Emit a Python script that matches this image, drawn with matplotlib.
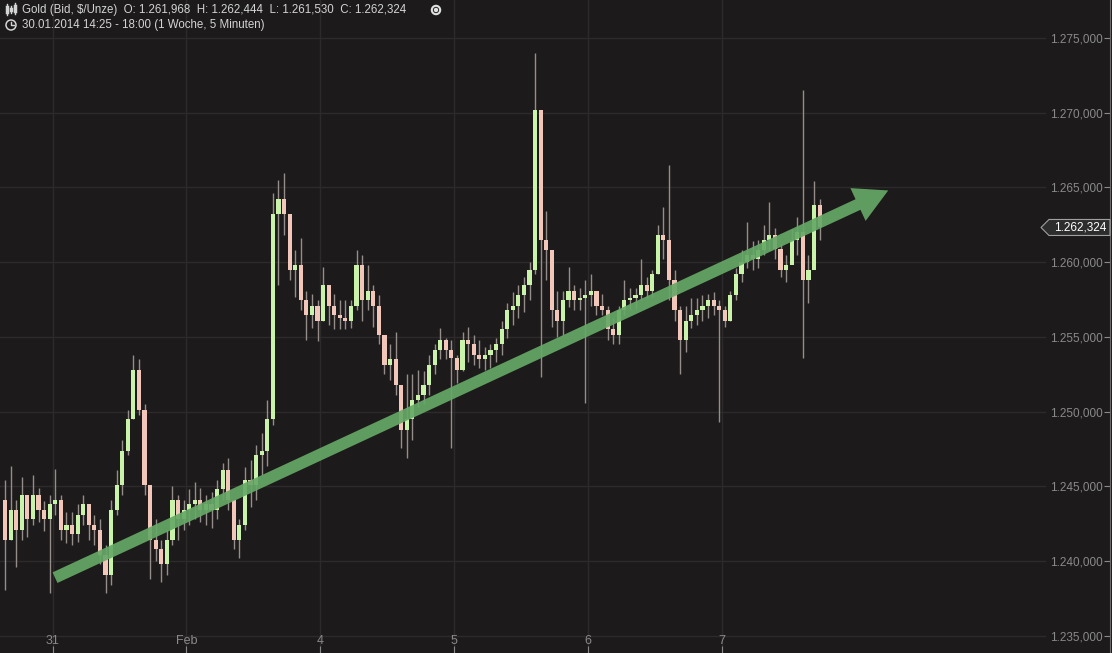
import matplotlib
matplotlib.use('Agg')
import matplotlib.pyplot as plt
import matplotlib.transforms as mtransforms
from matplotlib.patches import Polygon, Circle
from matplotlib.lines import Line2D
import numpy as np
import pandas as pd

plt.rcParams['font.family'] = ['Liberation Sans', 'DejaVu Sans']

# Gold (Bid, $/Unze), hourly candles
first_open = 1244.1
highs = [1245.4, 1246.4, 1244.1, 1245.6, 1244.4, 1245.8, 1244.9, 1244.0, 1244.4, 1246.2,
         1244.4, 1243.3, 1243.3, 1243.8, 1244.4, 1243.8, 1243.1, 1242.8, 1241.1, 1244.1,
         1246.1, 1248.1, 1250.1, 1253.8, 1253.5, 1250.5, 1244.8, 1242.8, 1241.4, 1242.1,
         1245.0, 1244.4, 1244.1, 1244.8, 1245.3, 1244.9, 1244.4, 1244.6, 1245.4, 1246.6,
         1246.9, 1244.1, 1242.8, 1246.3, 1246.8, 1247.8, 1248.6, 1250.8, 1264.6, 1265.5,
         1266.0, 1263.2, 1260.8, 1261.6, 1258.1, 1257.9, 1257.5, 1259.7, 1258.5, 1257.9,
         1257.5, 1257.5, 1257.5, 1260.8, 1260.5, 1259.8, 1258.5, 1257.8, 1255.1, 1254.5,
         1255.3, 1251.8, 1252.5, 1252.5, 1252.8, 1252.7, 1253.8, 1254.5, 1255.6, 1254.9,
         1254.8, 1253.8, 1255.3, 1255.7, 1255.1, 1254.8, 1254.3, 1254.5, 1254.9, 1256.1,
         1257.3, 1258.0, 1258.5, 1259.0, 1260.0, 1274.0, 1269.2, 1263.4, 1260.8, 1258.1,
         1258.1, 1259.7, 1258.5, 1258.3, 1258.8, 1259.2, 1258.1, 1257.9, 1257.1, 1256.3,
         1257.1, 1258.8, 1258.3, 1258.3, 1260.2, 1259.0, 1259.5, 1262.5, 1263.7, 1266.5,
         1259.5, 1257.1, 1257.1, 1257.6, 1257.6, 1257.8, 1257.9, 1258.0, 1257.5, 1257.1,
         1258.1, 1259.6, 1260.8, 1262.7, 1261.4, 1261.5, 1262.5, 1264.0, 1262.3, 1261.2,
         1260.5, 1262.2, 1263.0, 1271.5, 1260.5, 1265.4, 1264.2]
lows = [1238.1, 1241.4, 1239.6, 1241.4, 1241.6, 1242.4, 1242.6, 1242.0, 1237.9, 1243.1,
        1241.4, 1241.2, 1241.1, 1241.3, 1242.4, 1241.4, 1241.1, 1239.8, 1237.9, 1238.4,
        1243.1, 1244.4, 1247.1, 1249.5, 1249.8, 1244.4, 1238.8, 1240.0, 1238.6, 1239.1,
        1241.1, 1241.4, 1242.1, 1242.4, 1242.8, 1242.6, 1242.4, 1242.2, 1242.8, 1244.1,
        1243.4, 1240.8, 1240.2, 1242.1, 1243.6, 1244.1, 1245.8, 1246.4, 1249.1, 1258.5,
        1261.8, 1258.8, 1257.7, 1256.8, 1254.8, 1255.6, 1254.7, 1256.1, 1255.8, 1255.5,
        1255.5, 1255.5, 1255.6, 1256.8, 1256.1, 1256.8, 1255.7, 1254.5, 1252.5, 1252.1,
        1251.1, 1247.6, 1246.9, 1248.1, 1250.3, 1250.5, 1251.1, 1252.5, 1253.5, 1253.5,
        1247.6, 1251.9, 1252.7, 1253.3, 1253.1, 1252.9, 1252.8, 1252.9, 1253.3, 1253.8,
        1254.9, 1255.8, 1256.3, 1256.7, 1257.5, 1259.2, 1252.3, 1258.8, 1255.7, 1255.0,
        1255.1, 1257.0, 1256.8, 1256.8, 1250.6, 1257.1, 1256.5, 1256.5, 1254.8, 1254.5,
        1254.5, 1256.5, 1256.8, 1256.9, 1257.5, 1257.6, 1257.7, 1259.2, 1260.2, 1257.5,
        1256.1, 1252.5, 1254.0, 1255.6, 1255.8, 1256.1, 1256.3, 1256.5, 1249.3, 1255.7,
        1256.1, 1257.5, 1258.7, 1259.6, 1259.5, 1259.6, 1260.5, 1260.8, 1260.2, 1259.0,
        1258.7, 1260.0, 1260.5, 1253.6, 1257.3, 1259.8, 1261.5]
closes = [1241.4, 1243.4, 1242.1, 1244.4, 1242.8, 1244.4, 1243.4, 1242.8, 1243.8, 1244.1,
          1242.1, 1242.4, 1241.8, 1243.1, 1243.8, 1242.4, 1242.1, 1240.4, 1239.1, 1243.4,
          1245.1, 1247.4, 1249.5, 1252.8, 1250.1, 1245.1, 1241.4, 1240.8, 1239.8, 1241.4,
          1244.1, 1242.8, 1243.4, 1243.8, 1244.1, 1243.4, 1243.8, 1243.4, 1244.8, 1246.1,
          1244.1, 1241.4, 1242.4, 1245.4, 1245.1, 1247.1, 1247.4, 1249.5, 1263.2, 1264.2,
          1263.2, 1259.5, 1259.8, 1257.5, 1256.5, 1257.1, 1256.1, 1258.5, 1257.1, 1256.5,
          1256.3, 1256.1, 1257.1, 1259.8, 1257.5, 1258.1, 1257.1, 1255.1, 1253.1, 1253.5,
          1251.8, 1248.8, 1249.5, 1250.8, 1251.1, 1251.8, 1253.1, 1254.1, 1254.8, 1254.1,
          1253.6, 1252.8, 1254.8, 1254.5, 1253.8, 1253.5, 1253.8, 1254.1, 1254.5, 1255.5,
          1256.8, 1257.1, 1257.8, 1258.5, 1259.5, 1270.2, 1261.5, 1260.8, 1256.8, 1256.1,
          1257.5, 1258.1, 1257.5, 1257.6, 1257.8, 1258.1, 1257.1, 1256.8, 1255.5, 1255.1,
          1256.8, 1257.5, 1257.6, 1257.8, 1258.5, 1258.1, 1259.2, 1261.8, 1261.5, 1258.8,
          1256.8, 1254.8, 1256.1, 1256.5, 1256.8, 1257.1, 1257.5, 1257.1, 1256.8, 1256.1,
          1257.8, 1259.2, 1260.0, 1260.5, 1260.2, 1260.8, 1261.5, 1261.8, 1260.9, 1259.5,
          1259.8, 1261.5, 1262.0, 1258.8, 1259.5, 1263.8, 1262.324]

day_labels = ['31', 'Feb', '4', '5', '6', '7']
price_ticks = [1235, 1240, 1245, 1250, 1255, 1260, 1265, 1270, 1275]
last_price = 1262.324
header = 'Gold (Bid, $/Unze)  O: 1.261,968  H: 1.262,444  L: 1.261,530  C: 1.262,324'
subheader = '30.01.2014 14:25 - 18:00 (1 Woche, 5 Minuten)'

# hand-drawn trend arrow (candle index, price)
trend_start = (8.95, 1238.9)
trend_end = (158.3, 1264.8)

BG = '#1c1a1a'
GRID = '#2c2a2a'
LABEL = '#8a8a8a'


def de_fmt(v):
    return f'{v:,.3f}'.replace(',', 'X').replace('.', ',').replace('X', '.')


times = pd.date_range('2014-01-30 15:00', '2014-02-07 17:00', freq='h')
times = times[times.dayofweek < 5]
closes = np.array(closes)
highs = np.array(highs)
lows = np.array(lows)
opens = np.r_[first_open, closes[:-1]]
x = np.arange(len(closes))
day_pos = np.where(times.hour == 0)[0] - 0.5

fig = plt.figure(figsize=(11.12, 6.53), dpi=100, facecolor=BG)
ax = fig.add_axes([0, 0, 1110 / 1112, 1])
ax.set_facecolor(BG)

px = 5.579  # pixels per candle
ax.set_xlim(-5.08 / px, (1110 - 5.08) / px)
ax.set_ylim(1233.86, 1277.54)

# grid
for p in price_ticks:
    ax.axhline(p, xmin=0, xmax=1045 / 1110, color=GRID, lw=1, zorder=0)
for d in day_pos:
    ax.axvline(d, color=GRID, lw=1, zorder=0)

# candles
up = closes >= opens
ax.vlines(x, lows, highs, color='#948d8a', lw=1, zorder=2)
body_lo = np.minimum(opens, closes)
body_h = np.maximum(np.abs(closes - opens), 0.1)
ax.bar(x, body_h, bottom=body_lo, width=0.75,
       color=np.where(up, '#c9f3a8', '#f3c6ba'), linewidth=0, zorder=3)

# trend arrow
ax.annotate('', xy=trend_end, xytext=trend_start,
            arrowprops=dict(arrowstyle='simple,head_width=1.3,head_length=1.2,tail_width=0.42',
                            mutation_scale=20, color='#66a866', alpha=0.92,
                            shrinkA=0, shrinkB=0, lw=0), zorder=4)

# axes / ticks
for s in ['top', 'left', 'bottom']:
    ax.spines[s].set_visible(False)
ax.spines['right'].set_color('#6a6a6a')
ax.yaxis.tick_right()
ax.set_yticks(price_ticks, [de_fmt(p) for p in price_ticks])
ax.tick_params(axis='y', direction='in', length=4, pad=-5, colors=LABEL, labelsize=8.5)
for t in ax.get_yticklabels():
    t.set_horizontalalignment('right')
ax.set_xticks(day_pos, day_labels)
ax.tick_params(axis='x', direction='in', length=5, pad=-13, colors=LABEL, labelsize=9)

# last price tag
anchor = mtransforms.ScaledTranslation(1.0, last_price, ax.get_yaxis_transform())
tag = Polygon([(0, 8), (-61, 8), (-69, 0), (-61, -8), (0, -8)], closed=True,
              transform=mtransforms.Affine2D() + anchor, facecolor='#2e2d2d',
              edgecolor='#a0a0a0', lw=0.8, clip_on=False, zorder=6)
ax.add_artist(tag)
ax.text(1.0, last_price, de_fmt(last_price), color='white', fontsize=8.5,
        ha='right', va='center', zorder=7,
        transform=mtransforms.offset_copy(ax.get_yaxis_transform(), fig=fig,
                                          x=-4, y=0, units='dots'))

# header
fig.text(22 / 1112, 1 - 10 / 653, header, color='#d4d4d4', fontsize=8.3, va='center')
fig.text(22 / 1112, 1 - 25 / 653, subheader, color='#d4d4d4', fontsize=8.3, va='center')

H = 653
ident = mtransforms.IdentityTransform()
for xi, (y0, y1) in zip([7, 11, 15], [(4, 15), (6, 13), (3, 14)]):
    fig.add_artist(Line2D([xi, xi], [H - y0, H - y1], color='#d4d4d4', lw=1, transform=ident))
    fig.add_artist(Line2D([xi, xi], [H - (y0 + 3), H - (y1 - 3)], color='#d4d4d4', lw=2.5,
                          transform=ident))
fig.add_artist(Circle((436, H - 10), 4.2, transform=ident, facecolor=BG,
                      edgecolor='#e0e0e0', lw=1.5))
fig.add_artist(Circle((436, H - 10), 1.5, transform=ident, color='#e0e0e0'))
fig.add_artist(Circle((11, H - 25), 5, transform=ident, facecolor='none',
                      edgecolor='#d4d4d4', lw=1.1))
fig.add_artist(Line2D([11, 11, 14], [H - 21.5, H - 25, H - 25], color='#d4d4d4', lw=1,
                      transform=ident))

fig.savefig('out.png', dpi=100, facecolor=BG)
